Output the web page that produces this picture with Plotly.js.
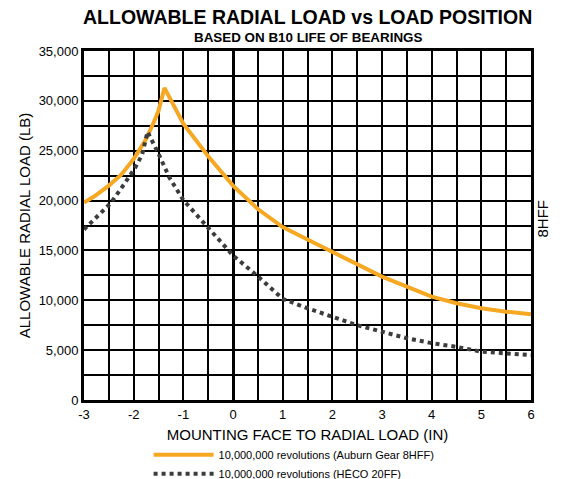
<!DOCTYPE html>
<html>
<head>
<meta charset="utf-8">
<script src="https://cdn.plot.ly/plotly-3.0.1.min.js"></script>
<style>
html,body{margin:0;padding:0;background:#fff;}
#chart{width:564px;height:479px;}
</style>
</head>
<body>
<div id="chart"></div>
<script>
// Auburn Gear 8HFF (orange, solid)
const xAuburn = [-3, -2.79, -2.5, -2.25, -2, -1.75, -1.6, -1.5, -1.38, -1, -0.5, 0, 0.5, 1, 1.5, 2, 2.5, 3, 3.5, 4, 4.5, 5, 5.5, 6];
const yAuburn = [19800, 20430, 21500, 22600, 24170, 26170, 27800, 29000, 31300, 27700, 24450, 21500, 19150, 17350, 16100, 14850, 13540, 12370, 11360, 10360, 9700, 9200, 8860, 8590];
// HECO 20FF (dark grey, dotted)
const xHeco = [-3, -2.47, -2.17, -1.97, -1.83, -1.72, -1.5, -1.28, -1, -0.5, 0, 0.5, 1, 1.5, 2, 2.5, 3, 3.5, 4, 4.5, 5, 5.5, 6];
const yHeco = [17100, 19700, 21800, 23300, 24600, 26900, 24700, 22300, 20050, 17270, 14500, 12400, 10150, 9200, 8350, 7500, 6850, 6200, 5700, 5330, 4850, 4680, 4500];

const xTicks = [-3, -2, -1, 0, 1, 2, 3, 4, 5, 6];
const yTicks = [0, 5000, 10000, 15000, 20000, 25000, 30000, 35000];
const seriesNames = ["10,000,000 revolutions (Auburn Gear 8HFF)", "10,000,000 revolutions (H\u0112CO 20FF)"];

const FONT = "Liberation Sans, Arial, Helvetica, sans-serif";

const traces = [
  {x: xAuburn, y: yAuburn, type: "scatter", mode: "lines", name: seriesNames[0],
   line: {color: "#F7A823", width: 4}},
  {x: xHeco, y: yHeco, type: "scatter", mode: "lines", name: seriesNames[1],
   line: {color: "#3C3C3C", width: 4, dash: "dot"}}
];

const layout = {
  width: 564, height: 479,
  margin: {l: 84, r: 33, t: 51, b: 79, autoexpand: false},
  paper_bgcolor: "#fff", plot_bgcolor: "#fff",
  font: {family: FONT, color: "#000", size: 13},
  showlegend: true,
  hovermode: false,
  xaxis: {
    range: [-3, 6], tickvals: xTicks, ticktext: xTicks.map(String),
    showgrid: true, gridcolor: "#000", gridwidth: 2,
    minor: {dtick: 0.5, tick0: 0, showgrid: true, gridcolor: "#000", gridwidth: 2},
    zeroline: true, zerolinecolor: "#000", zerolinewidth: 3,
    showline: true, linecolor: "#000", linewidth: 3, mirror: true,
    ticks: "", ticklen: 0, tickfont: {size: 13, family: FONT},
    title: {text: "MOUNTING FACE TO RADIAL LOAD (IN)", font: {size: 15, family: FONT}, standoff: 9},
    fixedrange: true
  },
  yaxis: {
    range: [0, 35000], tickvals: yTicks, tickformat: ",d",
    showgrid: true, gridcolor: "#000", gridwidth: 2,
    minor: {dtick: 2500, tick0: 0, showgrid: true, gridcolor: "#000", gridwidth: 2},
    zeroline: false,
    showline: true, linecolor: "#000", linewidth: 3, mirror: true,
    ticks: "", ticklen: 0, tickfont: {size: 13, family: FONT},
    title: {text: "ALLOWABLE RADIAL LOAD (LB)", font: {size: 15, family: FONT}, standoff: 5},
    fixedrange: true
  },
  legend: {
    x: 0.1445, y: -0.115, xanchor: "left", yanchor: "top",
    font: {size: 11, family: FONT}, itemwidth: 60,
    bgcolor: "rgba(0,0,0,0)", tracegroupgap: 0
  },
  annotations: [
    {text: "<b>ALLOWABLE RADIAL LOAD vs LOAD POSITION</b>", xref: "paper", yref: "paper",
     x: 0.5, y: 1, yshift: 34, xanchor: "center", yanchor: "middle", showarrow: false,
     font: {size: 19.5, family: FONT, color: "#000"}},
    {text: "<b>BASED ON B10 LIFE OF BEARINGS</b>", xref: "paper", yref: "paper",
     x: 0.5, y: 1, yshift: 14, xanchor: "center", yanchor: "middle", showarrow: false,
     font: {size: 13.4, family: FONT, color: "#000"}},
    {text: "8HFF", xref: "paper", yref: "paper", x: 1, xshift: 12, y: 0.52,
     xanchor: "center", yanchor: "middle", textangle: -90, showarrow: false,
     font: {size: 15, family: FONT, color: "#000"}}
  ]
};

Plotly.newPlot("chart", traces, layout, {displayModeBar: false, staticPlot: true});
</script>
</body>
</html>
